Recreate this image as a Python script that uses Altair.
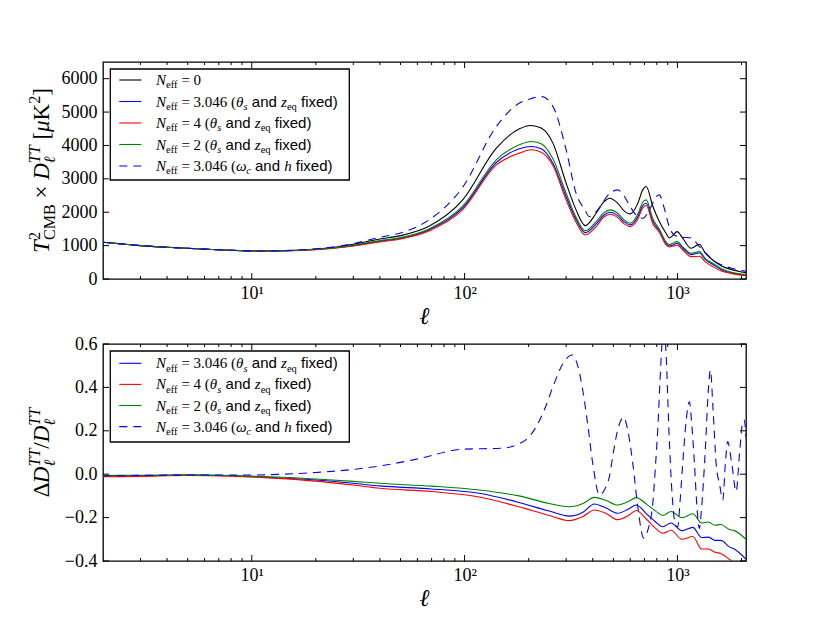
import altair as alt
import pandas as pd

# ---------------- data ----------------
X_DOMAIN = [2, 2100]

# top panel: T_CMB^2 x D_l^TT [muK^2]
L_TOP = [2, 3, 4, 6, 8, 11, 15, 20, 25, 30,
         40, 50, 68, 98, 141, 181, 205, 229, 260, 300,
         334, 369, 415, 450, 482, 524, 560, 600, 650, 687,
         713, 767, 822, 884, 917, 950, 996, 1060, 1159, 1268,
         1350, 1465, 1620, 1800, 2000, 2100]
TOP_NEFF0 = [1100, 1000, 950, 895, 860, 840, 855, 900, 960, 1040,
             1200, 1300, 1580, 2370, 3920, 4500, 4600, 4520, 4070, 2870,
             2070, 1600, 1970, 2300, 2420, 2270, 2050, 1950, 2250, 2670,
             2770, 2170, 1720, 1370, 1230, 1300, 1420, 1220, 920, 1040,
             780, 570, 380, 280, 210, 190]
TOP_NEFF3_THETA = [1100, 1000, 950, 895, 860, 837, 848, 885, 940, 1000,
                   1130, 1220, 1470, 2130, 3490, 3900, 3970, 3900, 3470, 2470,
                   1780, 1390, 1650, 1910, 2000, 1900, 1720, 1620, 1850, 2200,
                   2270, 1730, 1440, 1070, 990, 1020, 1070, 920, 730, 780,
                   590, 440, 270, 180, 130, 118]
TOP_NEFF4 = [1100, 1000, 950, 895, 860, 836, 845, 880, 932, 990,
             1110, 1200, 1440, 2080, 3420, 3770, 3870, 3800, 3400, 2370,
             1700, 1320, 1570, 1850, 1940, 1840, 1660, 1570, 1780, 2130,
             2200, 1650, 1400, 1020, 960, 980, 1020, 870, 670, 680,
             520, 370, 230, 160, 115, 105]
TOP_NEFF2 = [1100, 1000, 950, 895, 860, 838, 850, 890, 945, 1010,
             1150, 1240, 1500, 2180, 3570, 4020, 4120, 4050, 3600, 2570,
             1850, 1450, 1720, 1980, 2070, 1970, 1780, 1670, 1930, 2300,
             2370, 1800, 1500, 1110, 1030, 1070, 1120, 960, 770, 820,
             620, 470, 300, 200, 145, 133]
L_TOP_DASH = [2, 3, 4, 6, 8, 11, 15, 20, 25, 30,
              40, 50, 68, 98, 141, 181, 205, 229, 260, 300,
              334, 369, 385, 415, 482, 524, 560, 600, 650, 687,
              750, 790, 822, 860, 917, 960, 996, 1060, 1159, 1268,
              1350, 1465, 1620, 1800, 2000, 2100]
TOP_NEFF3_OMEGA = [1100, 1000, 950, 895, 860, 840, 857, 905, 970, 1060,
                   1250, 1380, 1770, 2750, 4570, 5270, 5400, 5470, 5170, 3870,
                   2570, 2050, 1870, 2020, 2570, 2670, 2500, 2170, 1870, 1820,
                   2150, 2450, 2520, 2200, 1550, 1330, 1280, 1250, 1230, 970,
                   800, 570, 420, 320, 250, 230]

# bottom panel: Delta D / D
L_BOT = [2, 3, 5, 8, 12, 20, 30, 40, 70, 117,
         180, 250, 310, 360, 407, 460, 524, 590, 640, 720,
         790, 853, 933, 1050, 1181, 1300, 1400, 1500, 1600, 1754,
         1850, 2100]
BOT_NEFF3_THETA = [-0.009, -0.007, -0.004, -0.007, -0.014, -0.027, -0.042, -0.054, -0.068, -0.088,
                   -0.13, -0.17, -0.193, -0.175, -0.137, -0.155, -0.18, -0.16, -0.142, -0.185,
                   -0.22, -0.242, -0.225, -0.26, -0.245, -0.292, -0.29, -0.305, -0.305, -0.335,
                   -0.345, -0.392]
BOT_NEFF4 = [-0.012, -0.01, -0.006, -0.009, -0.017, -0.032, -0.05, -0.065, -0.08, -0.105,
             -0.15, -0.19, -0.214, -0.195, -0.165, -0.18, -0.21, -0.19, -0.167, -0.21,
             -0.25, -0.272, -0.258, -0.3, -0.287, -0.345, -0.345, -0.36, -0.365, -0.392,
             -0.41, -0.45]
BOT_NEFF2 = [-0.006, -0.005, -0.003, -0.006, -0.012, -0.022, -0.033, -0.042, -0.055, -0.073,
             -0.10, -0.135, -0.15, -0.135, -0.107, -0.12, -0.142, -0.125, -0.108, -0.14,
             -0.17, -0.19, -0.172, -0.2, -0.182, -0.225, -0.22, -0.235, -0.232, -0.255,
             -0.26, -0.30]
L_BOT_DASH = [2, 5, 10, 14, 20, 30, 40, 60, 98, 151,
              175, 200, 217, 240, 260, 290, 320, 340, 359, 380,
              400, 430, 455, 479, 500, 524, 559, 585, 617, 651,
              695, 730, 766, 790, 808, 835, 860, 885, 912, 945,
              985, 1003, 1030, 1059, 1100, 1138, 1170, 1202, 1235, 1268,
              1300, 1350, 1400, 1429, 1470, 1520, 1580, 1634, 1680, 1722,
              1800, 1887, 1960, 2027, 2060, 2100]
BOT_NEFF3_OMEGA = [-0.008, -0.004, -0.004, 0.0, 0.008, 0.022, 0.038, 0.07, 0.115, 0.12,
                   0.135, 0.17, 0.219, 0.31, 0.403, 0.51, 0.549, 0.50, 0.388, 0.22,
                   0.05, -0.096, -0.07, -0.011, 0.10, 0.204, 0.262, 0.20, 0.05, -0.15,
                   -0.295, -0.25, -0.134, 0.05, 0.204, 0.5, 0.68, 0.55, 0.204, -0.1,
                   -0.24, -0.242, -0.12, 0.05, 0.25, 0.334, 0.22, 0.05, -0.15, -0.25,
                   -0.15, 0.1, 0.40, 0.48, 0.30, 0.05, -0.05, -0.119, 0.05, 0.15,
                   0.05, -0.08, 0.1, 0.242, 0.25, 0.17]

# ticks
X_MAJOR = [10, 100, 1000]
X_MINOR = [3, 4, 5, 6, 7, 8, 9, 20, 30, 40, 50, 60, 70, 80, 90,
           200, 300, 400, 500, 600, 700, 800, 900, 2000]
TOP_YTICKS = [0, 1000, 2000, 3000, 4000, 5000, 6000]
TOP_YDOMAIN = [0, 6500]
BOT_YTICKS = [-0.4, -0.2, 0.0, 0.2, 0.4, 0.6]
BOT_YDOMAIN = [-0.4, 0.6]

# legend entries: (N_eff value, which parameters fixed, colour, dashed)
LEGEND_TOP = [("0", None, "#000000", False),
              ("3.046", "theta", "#0000ff", False),
              ("4", "theta", "#ff0000", False),
              ("2", "theta", "#008000", False),
              ("3.046", "omega", "#0000ff", True)]
LEGEND_BOT = LEGEND_TOP[1:]

# ---------------- styling / layout ----------------
W, H = 643, 217
SERIF = "Liberation Serif"
SANS = "Liberation Sans"

W_RM = {" ": .25, "(": .333, ")": .333, ".": .25, "=": .564, "[": .333, "]": .333,
        "K": .722, "/": .278, "×": .564, "C": .667, "M": .889, "B": .667, "Δ": .612,
        "e": .444, "f": .333, "q": .5}
W_IT = {" ": .25, "N": .667, "θ": .5, "s": .389, "z": .389, "ω": .67, "c": .444, "h": .5,
        "T": .556, "D": .722, "ℓ": .42, "μ": .5, "e": .444, "f": .278, "q": .5}
W_SF = {" ": .278, "a": .556, "n": .556, "d": .556, "f": .278, "i": .222, "x": .5,
        "e": .556, ")": .333, "(": .333}
TABLES = {"rm": W_RM, "it": W_IT, "sf": W_SF}


def text_width(text, style, size):
    tab = TABLES[style]
    return sum(tab.get(ch, 0.5) for ch in text) * size


def layout(tokens, base):
    pieces, pos, ls, lw = [], 0.0, 0.0, 0.0
    for tok in tokens:
        text, style, scale, shift = tok[:4]
        stack = len(tok) > 4 and tok[4]
        size = base * scale
        lead = len(text) - len(text.lstrip(" "))
        w_all = text_width(text, style, size)
        w_lead = text_width(" " * lead, style, size)
        start = ls if stack else pos
        if text.strip(" "):
            pieces.append(dict(t=start + w_lead, b=shift * base, text=text.strip(" "),
                               style=style, size=size))
        if stack:
            end = max(ls + lw, start + w_all)
            lw = end - ls
            pos = end
        else:
            ls, lw = start, w_all
            pos = start + w_all
    return pieces, pos


def neff_tokens(val, kind):
    toks = [("N", "it", 1, 0), ("eff", "rm", 0.7, 0.22), (" = " + val, "rm", 1, 0)]
    if kind == "theta":
        toks += [(" (", "rm", 1, 0), ("θ", "it", 1, 0), ("s", "it", 0.7, 0.22),
                 (" and ", "sf", 1, 0), ("z", "it", 1, 0), ("eq", "rm", 0.7, 0.22),
                 (" fixed)", "sf", 1, 0)]
    elif kind == "omega":
        toks += [(" (", "rm", 1, 0), ("ω", "it", 1, 0), ("c", "it", 0.7, 0.22),
                 (" and ", "sf", 1, 0), ("h", "it", 1, 0), (" fixed)", "sf", 1, 0)]
    return toks


YT_TOP = [("T", "it", 1, 0), ("2", "rm", 0.7, -0.42), ("CMB", "rm", 0.7, 0.25, True),
          (" × ", "rm", 1, 0), ("D", "it", 1, 0), ("TT", "it", 0.7, -0.42),
          ("ℓ", "it", 0.7, 0.25, True), (" [", "rm", 1, 0), ("μ", "it", 1, 0),
          ("K", "rm", 1, 0), ("2", "rm", 0.7, -0.42), ("]", "rm", 1, 0)]
YT_BOT = [("Δ", "rm", 1, 0), ("D", "it", 1, 0), ("TT", "it", 0.7, -0.42),
          ("ℓ", "it", 0.7, 0.25, True), ("/", "rm", 1, 0), ("D", "it", 1, 0),
          ("TT", "it", 0.7, -0.42), ("ℓ", "it", 0.7, 0.25, True)]

LEG_FONT = 15
TITLE_FONT = 23

xscale = alt.Scale(type="log", domain=X_DOMAIN, nice=False)


def text_layers(rows):
    df = pd.DataFrame(rows)
    out = []
    for (style, rot), sub in df.groupby(["style", "rot"]):
        font = SANS if style == "sf" else SERIF
        fstyle = "italic" if style == "it" else "normal"
        mk = alt.Chart(sub).mark_text(font=font, fontStyle=fstyle, align="left",
                                      baseline="alphabetic", color="black",
                                      angle=270 if rot else 0)
        out.append(mk.encode(
            x=alt.X("x:Q", scale=None, axis=None),
            y=alt.Y("y:Q", scale=None, axis=None),
            text="text:N",
            size=alt.Size("size:Q", scale=None, legend=None)))
    return out


def panel(series, ydom, yticks, yfmt, legend, row0, rowstep, box_bottom, ytitle):
    yscale = alt.Scale(domain=ydom, nice=False, zero=False)
    xaxis = alt.Axis(values=X_MAJOR,
                     labelExpr="datum.value == 10 ? '10¹' : datum.value == 100 ? '10²' : '10³'",
                     ticks=False, domain=False, grid=False, labelFont=SERIF, labelFontSize=18,
                     labelColor="black", labelPadding=5, title=None, labelFlush=False)
    yaxis = alt.Axis(values=yticks, format=yfmt, ticks=False, domain=False, grid=False,
                     labelFont=SERIF, labelFontSize=18, labelColor="black", labelPadding=6,
                     title=None)
    layers = []
    for ls, vs, col, dash in series:
        df = pd.DataFrame({"l": ls, "v": vs})
        kw = dict(color=col, strokeWidth=1.1, clip=True, interpolate="monotone")
        if dash:
            kw["strokeDash"] = [8, 6]
        layers.append(alt.Chart(df).mark_line(**kw).encode(
            x=alt.X("l:Q", scale=xscale, axis=xaxis),
            y=alt.Y("v:Q", scale=yscale, axis=yaxis)))

    # inward ticks on all four sides
    for vals, ln in ((X_MAJOR, 6), (X_MINOR, 3)):
        d = pd.DataFrame({"l": vals})
        for ya, yb in ((H, H - ln), (0, ln)):
            layers.append(alt.Chart(d).mark_rule(color="black", strokeWidth=1).encode(
                x=alt.X("l:Q", scale=xscale, axis=xaxis),
                y=alt.value(ya), y2=alt.value(yb)))
    d = pd.DataFrame({"v": yticks})
    for xa, xb in ((0, 6), (W, W - 6)):
        layers.append(alt.Chart(d).mark_rule(color="black", strokeWidth=1).encode(
            y=alt.Y("v:Q", scale=yscale, axis=yaxis),
            x=alt.value(xa), x2=alt.value(xb)))

    # legend box
    box = pd.DataFrame({"x1": [7.3], "x2": [246.3], "y1": [7.0], "y2": [box_bottom]})
    layers.append(alt.Chart(box).mark_rect(fill="white", stroke="black", strokeWidth=1.3).encode(
        x=alt.X("x1:Q", scale=None, axis=None), x2="x2:Q",
        y=alt.Y("y1:Q", scale=None, axis=None), y2="y2:Q"))

    texts = []
    for i, (val, kind, col, dash) in enumerate(legend):
        ry = row0 + i * rowstep
        sample = pd.DataFrame({"x1": [16.3], "x2": [38.3], "y": [ry]})
        kw = dict(strokeWidth=1.1, color=col)
        if dash:
            kw["strokeDash"] = [8, 6]
        layers.append(alt.Chart(sample).mark_rule(**kw).encode(
            x=alt.X("x1:Q", scale=None, axis=None), x2="x2:Q",
            y=alt.Y("y:Q", scale=None, axis=None)))
        pcs, _ = layout(neff_tokens(val, kind), LEG_FONT)
        for p in pcs:
            texts.append(dict(x=53 + p["t"], y=ry + 5 + p["b"], text=p["text"],
                              style=p["style"], size=p["size"], rot=False))

    # rotated y title
    pcs, total = layout(ytitle, TITLE_FONT)
    y0 = H / 2 + total / 2
    x0 = -53.7
    for p in pcs:
        texts.append(dict(x=x0 + p["b"], y=y0 - p["t"], text=p["text"],
                          style=p["style"], size=p["size"], rot=True))
    layers += text_layers(texts)

    # x title
    xt = pd.DataFrame({"x": [W / 2], "y": [H + 38], "text": ["ℓ"]})
    layers.append(alt.Chart(xt).mark_text(font=SERIF, fontStyle="italic", fontSize=24,
                                          align="center", baseline="middle", color="black").encode(
        x=alt.X("x:Q", scale=None, axis=None), y=alt.Y("y:Q", scale=None, axis=None),
        text="text:N"))

    return alt.layer(*layers).properties(width=W, height=H)


top = panel([(L_TOP, TOP_NEFF0, "#000000", False),
             (L_TOP, TOP_NEFF3_THETA, "#0000ff", False),
             (L_TOP, TOP_NEFF4, "#ff0000", False),
             (L_TOP, TOP_NEFF2, "#008000", False),
             (L_TOP_DASH, TOP_NEFF3_OMEGA, "#0000ff", True)],
            TOP_YDOMAIN, TOP_YTICKS, "d", LEGEND_TOP, 18, 21.5, 118, YT_TOP)

bot = panel([(L_BOT, BOT_NEFF3_THETA, "#0000ff", False),
             (L_BOT, BOT_NEFF4, "#ff0000", False),
             (L_BOT, BOT_NEFF2, "#008000", False),
             (L_BOT_DASH, BOT_NEFF3_OMEGA, "#0000ff", True)],
            BOT_YDOMAIN, BOT_YTICKS, ".1f", LEGEND_BOT, 19.3, 21.1, 98, YT_BOT)

chart = alt.vconcat(top, bot, spacing=65, bounds="flush").properties(
    padding={"left": 17, "top": 52, "right": 5, "bottom": 5},
    background="white",
).configure_view(stroke="black", strokeWidth=1.3)

chart.save("out.html", embed_options={"renderer": "svg", "actions": False})
